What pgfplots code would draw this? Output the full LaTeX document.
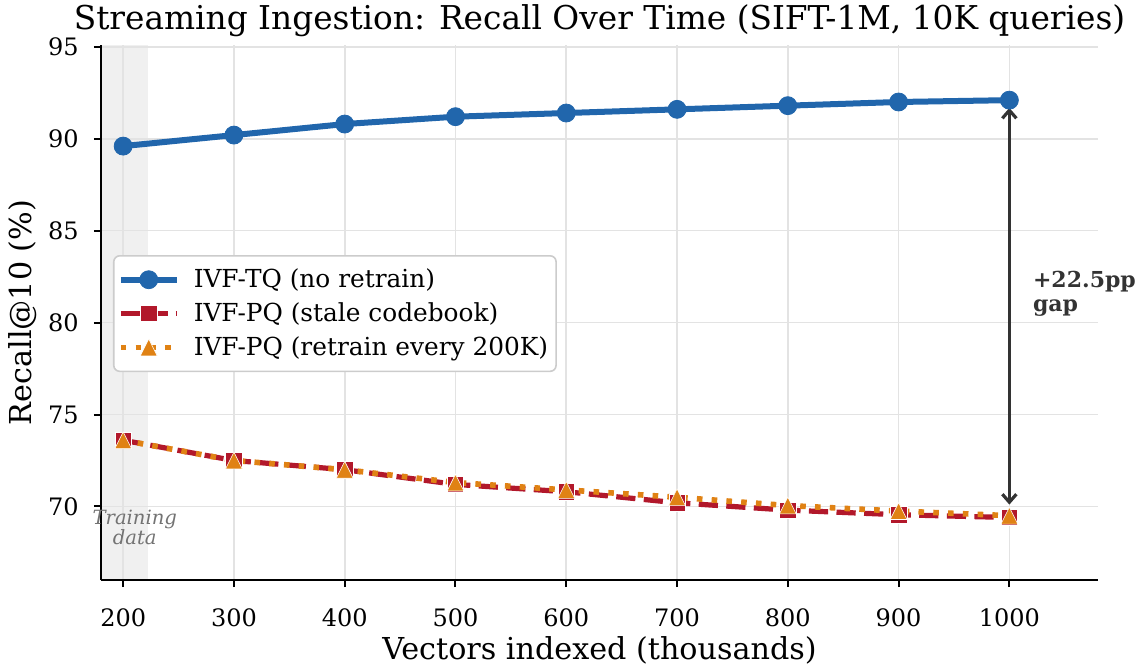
\documentclass[border=0pt]{standalone}
\usepackage{fontspec}
\setmainfont{DejaVu Serif}
\usepackage{pgfplots}
\usepackage{pgfplotstable}
\pgfplotsset{compat=1.18}
\usetikzlibrary{arrows.meta}

\definecolor{tqblue}{HTML}{2166AC}
\definecolor{pqred}{HTML}{B2182B}
\definecolor{pqorange}{HTML}{E08214}
\definecolor{annot}{HTML}{333333}

% matplotlib-style '^' marker: as wide as it is tall
\pgfdeclareplotmark{mpltri}{%
  \pgfpathmoveto{\pgfqpoint{0pt}{\pgfplotmarksize}}%
  \pgfpathlineto{\pgfqpoint{-\pgfplotmarksize}{-\pgfplotmarksize}}%
  \pgfpathlineto{\pgfqpoint{\pgfplotmarksize}{-\pgfplotmarksize}}%
  \pgfpathclose
  \pgfusepathqfillstroke}

% recall@10 (%) vs vectors indexed (thousands)
\pgfplotstableread{
x    tq    stale  retrain
200  89.6  73.6   73.6
300  90.2  72.5   72.5
400  90.8  72.0   72.0
500  91.2  71.2   71.3
600  91.4  70.8   70.9
700  91.6  70.2   70.5
800  91.8  69.8   70.05
900  92.0  69.55  69.75
1000 92.1  69.4   69.5
}\recall

\begin{document}
\begin{tikzpicture}
\begin{axis}[
    set layers, clip=false,
    scale only axis, width=498.5pt, height=267.5pt,
    xmin=180, xmax=1080, ymin=66, ymax=95.1,
    axis x line*=bottom, axis y line*=left,
    axis line style={line width=1.25pt, -},
    xtick={200,300,...,1000}, ytick={70,75,...,95},
    tick align=outside, major tick length=3.5pt,
    every tick/.style={black, line width=1pt},
    grid=major, grid style={line width=0.8pt, black!11},
    /pgf/number format/assume math mode=true,
    /pgf/number format/1000 sep={},
    ticklabel style={font=\fontsize{12}{14}\selectfont},
    xticklabel style={yshift=-7.1pt},
    yticklabel style={xshift=-4.1pt},
    title={Streaming Ingestion: Recall Over Time (SIFT-1M, 10K queries)},
    title style={at={(axis description cs:0.5,1)}, anchor=base, yshift=1.5pt,
        inner sep=0pt, font=\fontsize{16.4}{19}\selectfont},
    xlabel={Vectors indexed (thousands)},
    xlabel style={at={(axis description cs:0.5,0)}, anchor=base, yshift=-39.5pt,
        inner sep=0pt, font=\fontsize{15.1}{18}\selectfont},
    ylabel={Recall@10 (\%)},
    ylabel style={at={(axis description cs:-0.0782,0.5)}, anchor=center,
        inner sep=0pt, font=\fontsize{15.1}{18}\selectfont},
    legend style={at={(axis description cs:0.012,0.498)}, anchor=west,
        draw=black!20, line width=0.8pt, rounded corners=3pt, fill=white,
        font=\fontsize{12.4}{15}\selectfont,
        inner xsep=2pt, inner ysep=4.5pt, row sep=2pt,
        /tikz/every odd column/.append style={column sep=5pt}},
    legend cell align=left,
    legend image code/.code={
        \draw[mark repeat=2, mark phase=2, #1]
            plot coordinates {(0pt,0pt) (14pt,0pt) (28pt,0pt)};},
]
\begin{pgfonlayer}{axis background}
\fill[black!6] (axis cs:180,66) rectangle (axis cs:222,95.1);
\end{pgfonlayer}

\addplot[tqblue, line width=3pt, mark=*, mark size=4.5pt,
    mark options={solid, fill=tqblue, draw=tqblue, line width=0.4pt}]
    table[x=x, y=tq] {\recall};
\addlegendentry{IVF-TQ (no retrain)}

\addplot[pqred, line width=2.6pt, dash pattern=on 9.6pt off 4.2pt,
    mark=square*, mark size=4.1pt,
    mark options={solid, fill=pqred, draw=white, line width=0.3pt}]
    table[x=x, y=stale] {\recall};
\addlegendentry{IVF-PQ (stale codebook)}

\addplot[pqorange, line width=2.8pt, dash pattern=on 2.8pt off 4.6pt,
    mark=mpltri, mark size=4.2pt,
    mark options={solid, fill=pqorange, draw=white, line width=0.3pt}]
    table[x=x, y=retrain] {\recall};
\addlegendentry{IVF-PQ (retrain every 200K)}

\draw[annot, line width=1.6pt,
    {Straight Barb[length=4pt,width=7pt]}-{Straight Barb[length=4pt,width=7pt]}]
    (axis cs:1000,91.68) -- (axis cs:1000,70.1);
\node[anchor=west, align=left, inner sep=0pt, text=annot,
    font=\bfseries\fontsize{11}{12}\selectfont]
    at (axis cs:1021,81.55) {+22.5pp\\gap};
\node[align=center, inner sep=0pt, text=black!55,
    font=\itshape\fontsize{9.8}{10}\selectfont]
    at (axis cs:210.5,68.85) {Training\\data};
\end{axis}
\pgfresetboundingbox
\path[use as bounding box] (-50.5pt,-42.5pt) rectangle (518.5pt,290pt);
\end{tikzpicture}
\end{document}
